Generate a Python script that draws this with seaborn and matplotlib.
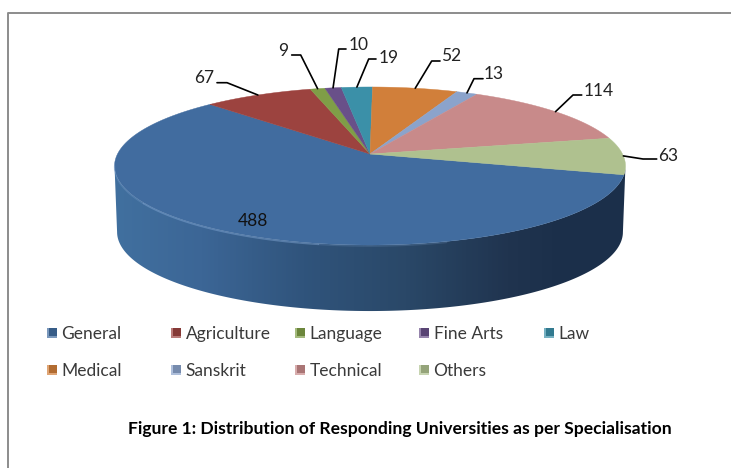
# Figura 1: pastel 3D de universidades por especialidad
import numpy as np
import matplotlib
matplotlib.use("Agg")
import matplotlib.pyplot as plt
from matplotlib.colors import LinearSegmentedColormap, to_rgb
from matplotlib.patches import Polygon
import seaborn as sns

categorias = ["General", "Agriculture", "Language", "Fine Arts", "Law",
              "Medical", "Sanskrit", "Technical", "Others"]
valores = [488, 67, 9, 10, 19, 52, 13, 114, 63]
colores = ["#416C9F", "#9C433F", "#7F9E47", "#695089", "#3B90A8",
           "#D17F3A", "#8BA3CB", "#C88A8A", "#AFC18F"]
titulo = "Figure 1: Distribution of Responding Universities as per Specialisation"

sns.set_theme(style="white")
plt.rcParams["font.family"] = ["Lato", "DejaVu Sans"]

fig, ax = plt.subplots(figsize=(7.31, 4.68), dpi=100)
ax.set_position([0, 0, 1, 1])
ax.set_xlim(0, 731)
ax.set_ylim(468, 0)
ax.axis("off")

# Proyeccion en perspectiva del circulo unidad
cx, cy = 370, 154
rx, ry, k = 252.5, 77.2, 0.152
inicio = 105
fondo = 66


def borde(theta):
    t = np.radians(theta)
    u, v = np.sin(t), np.cos(t)
    s = 1 + k * v
    return cx + rx * u / s, cy - ry * v / s


# Lado del pastel con degradado
t_frente = np.linspace(98.7, 261.3, 200)
x_f, y_f = borde(t_frente)
x_b = cx + (x_f - cx) * 0.99
y_b = y_f + fondo
lado = Polygon(np.r_[np.c_[x_f, y_f], np.c_[x_b, y_b][::-1]], transform=ax.transData,
               facecolor="none", edgecolor="none")
ax.add_patch(lado)
cmap = LinearSegmentedColormap.from_list("lado", [(0, "#41709f"), (0.17, "#3c6696"), (0.37, "#30547c"),
                                                  (0.57, "#2a4868"), (0.77, "#20344f"), (0.88, "#1b2f4a"),
                                                  (1, "#1b2f4a")])
img = ax.imshow(np.linspace(0, 1, 256)[None, :], extent=(114, 626, 320, 150), cmap=cmap,
                aspect="auto", zorder=1)
img.set_clip_path(lado)
ax.set_xlim(0, 731)
ax.set_ylim(468, 0)

# Cara superior: un sector por categoria
limites = inicio + np.r_[0, np.cumsum(valores)] / sum(valores) * 360
medios = (limites[:-1] + limites[1:]) / 2
for i in range(len(valores)):
    t = np.linspace(limites[i], limites[i + 1], 150)
    x, y = borde(t)
    ax.fill(np.r_[cx, x], np.r_[cy, y], color=colores[i], lw=0.3, zorder=2)

# Brillo del borde delantero
for t0, t1, alfa in [(262, 235, 0.25), (235, 190, 0.45), (190, 165, 0.2)]:
    x, y = borde(np.linspace(t0, t1, 60))
    ax.plot(x, y + 1, color="#86abd8", lw=1.1, alpha=alfa, zorder=3)

# Etiquetas: codo, fin de la guia y centro del texto
etiquetas = {
    1: ((227, 82.7), (217, 82.7), (204, 78)),
    2: ((300.7, 55), (291.7, 55), (283, 51)),
    3: ((338.7, 49), (346, 49), (359, 45)),
    4: ((368.7, 59), (376, 59), (389, 58)),
    5: ((431.7, 61), (440, 61), (451, 56)),
    6: ((474, 78.7), (483, 78.7), (494, 74)),
    7: ((573, 95), (581.7, 95), (599, 91)),
    8: ((643, 159), (656.7, 159), (668, 156)),
}
for i, (codo, fin, pos) in etiquetas.items():
    x0, y0 = borde(medios[i])
    ax.plot([x0, codo[0], fin[0]], [y0, codo[1], fin[1]], color="black", lw=1.2, zorder=4)
    ax.text(pos[0], pos[1], str(valores[i]), fontsize=12.5, color="#222222", ha="center", va="center")
ax.text(253, 221, str(valores[0]), fontsize=12.5, color="#111111", ha="center", va="center", zorder=5)

# Leyenda en rejilla de 5 columnas
col_x = [51.5, 176, 300, 424, 548.5]
fila_y = [332.7, 370]
for i, nombre in enumerate(categorias):
    x = col_x[i % 5]
    y = fila_y[i // 5]
    c = np.array(to_rgb(colores[i]))
    ax.scatter(x, y, marker="s", s=62, color=c * 0.7 + 0.3, linewidths=0, zorder=5)
    ax.scatter(x + 1, y - 1, marker="s", s=30, color=c * 0.85, linewidths=0, zorder=6)
    ax.text(x + 9.5, y + 1, nombre, fontsize=12.5, color="#3a3a3a", ha="left", va="center")

ax.text(400, 429, titulo, fontsize=12.6, fontweight="bold", color="black", ha="center", va="center")

# Marco gris superior e izquierdo
ax.plot([731, 8, 8], [13, 13, 468], color="#8c8c8c", lw=1.4, zorder=7)

fig.savefig("out.png", dpi=100)
